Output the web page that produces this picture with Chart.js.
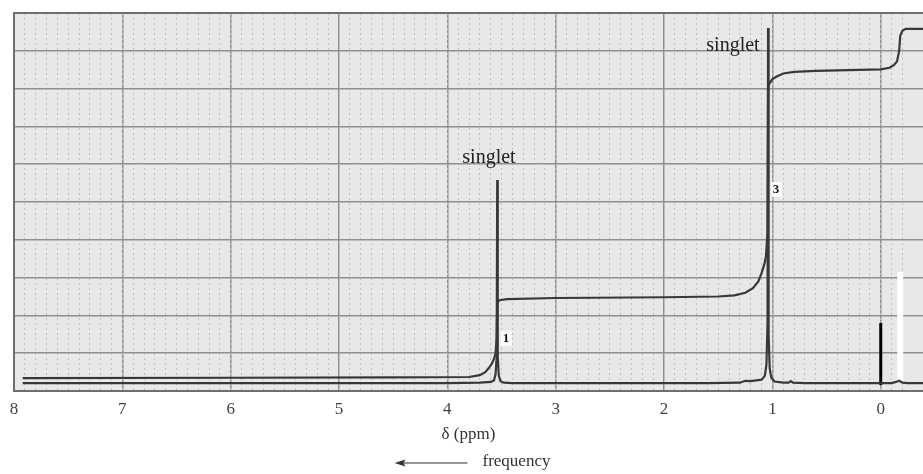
<!DOCTYPE html>
<html>
<head>
<meta charset="utf-8">
<script src="https://cdn.jsdelivr.net/npm/chart.js@4.4.0/dist/chart.umd.min.js"></script>
<style>
    html, body { margin: 0; padding: 0; background: #fff; }
    #wrap { width: 923px; height: 474px; position: relative; }
</style>
</head>
<body>
<div id="wrap"><canvas id="nmrChart"></canvas></div>
<script>
// chemical shift axis (ppm), runs right to left
const ppmTicks = [8, 7, 6, 5, 4, 3, 2, 1, 0];
const ppmMin = -0.39;
const ppmMax = 8;

// spectrum trace: shift (ppm) / intensity (grid units)
const specPpm = [7.92, 6.5, 5.0, 4.0, 3.7, 3.6, 3.57, 3.555, 3.545, 3.54, 3.535, 3.525, 3.51, 3.48, 3.4, 2.5,
    1.6, 1.3, 1.25, 1.2, 1.15, 1.1, 1.07, 1.055, 1.045, 1.04, 1.035, 1.025, 1.01, 0.98, 0.9, 0.85, 0.83, 0.81,
    0.7, 0.3, -0.1, -0.14, -0.17, -0.2, -0.25, -0.39];
const specInt = [0.21, 0.21, 0.21, 0.21, 0.22, 0.24, 0.28, 0.45, 0.9, 5.58, 0.9, 0.4, 0.26, 0.22, 0.21, 0.21,
    0.21, 0.22, 0.27, 0.26, 0.28, 0.3, 0.4, 0.7, 1.8, 9.6, 1.5, 0.6, 0.35, 0.25, 0.22, 0.22, 0.26, 0.22,
    0.21, 0.21, 0.21, 0.24, 0.27, 0.22, 0.21, 0.21];

// integration trace
const integPpm = [7.92, 6.0, 4.5, 3.8, 3.7, 3.65, 3.62, 3.59, 3.57, 3.555, 3.545, 3.54, 3.52, 3.45, 3.0, 2.0,
    1.5, 1.35, 1.25, 1.18, 1.13, 1.1, 1.075, 1.06, 1.045, 1.04, 1.03, 1.0, 0.96, 0.9, 0.8, 0.6, 0.3, 0.0,
    -0.08, -0.12, -0.15, -0.17, -0.18, -0.2, -0.23, -0.39];
const integVal = [0.34, 0.35, 0.36, 0.37, 0.42, 0.5, 0.6, 0.72, 0.85, 1.0, 1.4, 2.33, 2.4, 2.43, 2.46, 2.48,
    2.5, 2.53, 2.6, 2.72, 2.9, 3.12, 3.35, 3.55, 4.2, 8.0, 8.12, 8.25, 8.32, 8.4, 8.44, 8.47, 8.49, 8.51,
    8.55, 8.62, 8.72, 9.0, 9.4, 9.53, 9.58, 9.58];

// TMS reference stroke and white strip
const tmsPpm = [0, 0];
const tmsVal = [0.16, 1.8];
const stripPpm = [-0.18, -0.18];
const stripVal = [0.29, 3.15];

// peak and integral labels
const peakText = ['singlet', 'singlet'];
const integText = ['1', '3'];

const serif = "'Liberation Serif', 'Times New Roman', serif";

function toPoints(xs, ys) {
    return xs.map((x, i) => ({ x: x, y: ys[i] }));
}

// grey paper behind the plot
const paperPlugin = {
    id: 'paper',
    beforeDraw(chart) {
        const a = chart.chartArea;
        const c = chart.ctx;
        c.save();
        c.fillStyle = '#e8e8e8';
        c.fillRect(a.left, a.top, a.right - a.left, a.bottom - a.top);
        c.restore();
    }
};

// frame, text labels and the frequency arrow
const notesPlugin = {
    id: 'notes',
    afterDraw(chart) {
        const a = chart.chartArea;
        const c = chart.ctx;
        const xs = chart.scales.x;
        const ys = chart.scales.y;

        c.save();
        c.strokeStyle = '#6e6e6e';
        c.lineWidth = 2;
        c.beginPath();
        c.moveTo(a.right, a.top);
        c.lineTo(a.left, a.top);
        c.lineTo(a.left, a.bottom);
        c.lineTo(a.right, a.bottom);
        c.stroke();

        // "singlet" labels, placed in data units
        const peakPos = [[3.616, 6.16], [1.364, 9.13]];
        c.fillStyle = '#222';
        c.font = '20px ' + serif;
        c.textAlign = 'center';
        c.textBaseline = 'middle';
        peakText.forEach((t, i) => {
            c.fillText(t, xs.getPixelForValue(peakPos[i][0]), ys.getPixelForValue(peakPos[i][1]));
        });

        // integral ratio labels on white boxes
        const integPos = [[3.46, 1.38], [0.967, 5.32]];
        c.font = 'bold 13px ' + serif;
        integText.forEach((t, i) => {
            const px = xs.getPixelForValue(integPos[i][0]);
            const py = ys.getPixelForValue(integPos[i][1]);
            c.fillStyle = '#fbfbfb';
            c.fillRect(px - 5, py - 8, 11, 15);
            c.fillStyle = '#111';
            c.fillText(t, px, py);
        });

        // frequency arrow under the axis title
        const cx = (a.left + a.right) / 2;
        const ay = 463;
        c.strokeStyle = '#333';
        c.fillStyle = '#333';
        c.lineWidth = 1.2;
        c.beginPath();
        c.moveTo(cx - 66, ay);
        c.lineTo(cx - 1, ay);
        c.stroke();
        c.beginPath();
        c.moveTo(cx - 74, ay);
        c.lineTo(cx - 63, ay - 3.5);
        c.lineTo(cx - 65, ay);
        c.lineTo(cx - 63, ay + 3.5);
        c.closePath();
        c.fill();
        c.font = '17px ' + serif;
        c.textAlign = 'left';
        c.fillText('frequency', cx + 14, ay - 1);
        c.restore();
    }
};

const ctx = document.getElementById('nmrChart').getContext('2d');
const nmrChart = new Chart(ctx, {
    type: 'scatter',
    data: {
        datasets: [
            {
                label: 'Integration',
                data: toPoints(integPpm, integVal),
                showLine: true,
                borderColor: '#383838',
                borderWidth: 2.2,
                pointRadius: 0,
                tension: 0
            },
            {
                label: 'Spectrum',
                data: toPoints(specPpm, specInt),
                showLine: true,
                borderColor: '#383838',
                borderWidth: 2.2,
                pointRadius: 0,
                tension: 0
            },
            {
                label: 'TMS',
                data: toPoints(tmsPpm, tmsVal),
                showLine: true,
                borderColor: '#000',
                borderWidth: 3,
                pointRadius: 0
            },
            {
                label: 'Strip',
                data: toPoints(stripPpm, stripVal),
                showLine: true,
                borderColor: '#ffffff',
                borderWidth: 6,
                pointRadius: 0
            }
        ]
    },
    options: {
        responsive: true,
        maintainAspectRatio: false,
        animation: false,
        layout: {
            padding: { top: 13, left: 14, right: 0, bottom: 0 }
        },
        plugins: {
            legend: { display: false },
            tooltip: { enabled: false }
        },
        scales: {
            x: {
                type: 'linear',
                position: 'bottom',
                reverse: true,
                min: ppmMin,
                max: ppmMax,
                afterBuildTicks: s => { s.ticks = ppmTicks.map(v => ({ value: v })); },
                afterFit: s => { s.height = 83; },
                grid: { color: '#8f8f8f', lineWidth: 1.5, drawTicks: false },
                border: { display: false },
                ticks: {
                    padding: 8,
                    color: '#444',
                    autoSkip: false,
                    maxRotation: 0,
                    font: { family: serif, size: 17 },
                    callback: v => String(v)
                },
                title: {
                    display: true,
                    text: 'δ (ppm)',
                    color: '#333',
                    font: { family: serif, size: 17 },
                    padding: { top: 0, bottom: 29 }
                }
            },
            xMinor: {
                type: 'linear',
                position: 'top',
                reverse: true,
                min: ppmMin,
                max: ppmMax,
                afterFit: s => { s.height = 0; },
                ticks: { display: false, stepSize: 0.1 },
                grid: { color: '#c0c0c0', lineWidth: 1, drawTicks: false },
                border: { display: false, dash: [2, 3] }
            },
            y: {
                min: 0,
                max: 10,
                afterFit: s => { s.width = 0; },
                ticks: { display: false, stepSize: 1 },
                grid: { color: '#8f8f8f', lineWidth: 1.5, drawTicks: false },
                border: { display: false }
            }
        }
    },
    plugins: [paperPlugin, notesPlugin]
});
</script>
</body>
</html>
